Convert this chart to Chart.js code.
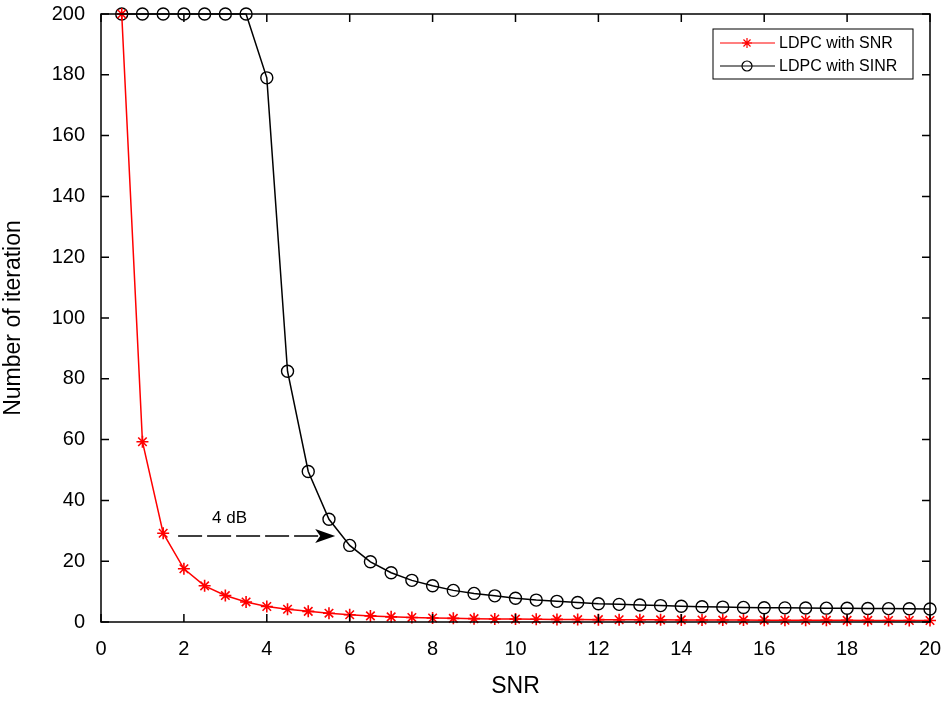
<!DOCTYPE html>
<html>
<head>
<meta charset="utf-8">
<script src="https://cdn.jsdelivr.net/npm/chart.js@4"></script>
<style>
  html, body { margin: 0; padding: 0; background: #fff; }
  #wrap { width: 944px; height: 704px; }
</style>
</head>
<body>
<div id="wrap"><canvas id="chart" width="944" height="704"></canvas></div>
<script>
// SNR-Werte (x-Achse)
const snr = [0.5, 1, 1.5, 2, 2.5, 3, 3.5, 4, 4.5, 5, 5.5, 6, 6.5, 7, 7.5, 8, 8.5, 9, 9.5, 10,
  10.5, 11, 11.5, 12, 12.5, 13, 13.5, 14, 14.5, 15, 15.5, 16, 16.5, 17, 17.5, 18, 18.5, 19, 19.5, 20];

// Iterationen LDPC mit SNR
const iterSNR = [200, 59.3, 29.2, 17.5, 11.9, 8.7, 6.6, 5.1, 4.2, 3.5, 2.9, 2.4, 2.0, 1.7, 1.5, 1.3,
  1.2, 1.1, 1.0, 0.95, 0.9, 0.85, 0.8, 0.78, 0.75, 0.72, 0.7, 0.68, 0.66, 0.64, 0.62, 0.6, 0.58, 0.56,
  0.55, 0.54, 0.52, 0.5, 0.5, 0.5];

// Iterationen LDPC mit SINR
const iterSINR = [200, 200, 200, 200, 200, 200, 200, 179, 82.5, 49.5, 33.8, 25.2, 19.8, 16.2, 13.7, 11.9,
  10.4, 9.4, 8.6, 7.8, 7.2, 6.8, 6.4, 6.0, 5.8, 5.6, 5.4, 5.2, 5.0, 4.9, 4.8, 4.7, 4.65, 4.6, 4.55,
  4.5, 4.45, 4.4, 4.35, 4.3];

const seriesLabels = ['LDPC with SNR', 'LDPC with SINR'];
const xTicks = [0, 2, 4, 6, 8, 10, 12, 14, 16, 18, 20];
const yTicks = [0, 20, 40, 60, 80, 100, 120, 140, 160, 180, 200];

// Pfeil-Anmerkung "4 dB"
const arrowText = '4 dB';
const arrowFrom = { x: 1.86, y: 28.3 };
const arrowTo = { x: 5.65, y: 28.3 };
const arrowLabelAt = { x: 3.1, y: 34 };

const FONT = '"Liberation Sans", Arial, sans-serif';

// Rahmen, nach innen zeigende Ticks, Pfeil und Legende
const framePlugin = {
  id: 'frame',
  afterDatasetsDraw(chart) {
    const { ctx, chartArea: a, scales: { x, y } } = chart;
    ctx.save();
    ctx.strokeStyle = '#000';
    ctx.lineWidth = 1.5;
    ctx.strokeRect(a.left, a.top, a.right - a.left, a.bottom - a.top);
    const tl = 8;
    ctx.beginPath();
    xTicks.forEach(v => {
      const px = x.getPixelForValue(v);
      ctx.moveTo(px, a.bottom); ctx.lineTo(px, a.bottom - tl);
      ctx.moveTo(px, a.top); ctx.lineTo(px, a.top + tl);
    });
    yTicks.forEach(v => {
      const py = y.getPixelForValue(v);
      ctx.moveTo(a.left, py); ctx.lineTo(a.left + tl, py);
      ctx.moveTo(a.right, py); ctx.lineTo(a.right - tl, py);
    });
    ctx.stroke();

    // Pfeil
    const x1 = x.getPixelForValue(arrowFrom.x), y1 = y.getPixelForValue(arrowFrom.y);
    const x2 = x.getPixelForValue(arrowTo.x), y2 = y.getPixelForValue(arrowTo.y);
    ctx.lineWidth = 1.5;
    ctx.setLineDash([24, 5]);
    ctx.beginPath();
    ctx.moveTo(x1, y1); ctx.lineTo(x2 - 14, y2);
    ctx.stroke();
    ctx.setLineDash([]);
    ctx.fillStyle = '#000';
    ctx.beginPath();
    ctx.moveTo(x2, y2);
    ctx.lineTo(x2 - 20, y2 - 7);
    ctx.lineTo(x2 - 15, y2);
    ctx.lineTo(x2 - 20, y2 + 7);
    ctx.closePath();
    ctx.fill();
    ctx.font = '17px ' + FONT;
    ctx.textAlign = 'center';
    ctx.textBaseline = 'middle';
    ctx.fillText(arrowText, x.getPixelForValue(arrowLabelAt.x), y.getPixelForValue(arrowLabelAt.y));

    // Legende
    const bx = a.right - 217, by = a.top + 15, bw = 200, bh = 50;
    ctx.fillStyle = '#fff';
    ctx.fillRect(bx, by, bw, bh);
    ctx.lineWidth = 1;
    ctx.strokeStyle = '#000';
    ctx.strokeRect(bx, by, bw, bh);
    ctx.font = '16px ' + FONT;
    ctx.textAlign = 'left';
    chart.data.datasets.forEach((ds, i) => {
      const ry = by + 14 + i * 23;
      ctx.strokeStyle = ds.borderColor;
      ctx.fillStyle = ds.backgroundColor;
      ctx.lineWidth = 1.2;
      ctx.beginPath();
      ctx.moveTo(bx + 7, ry); ctx.lineTo(bx + 62, ry);
      ctx.stroke();
      Chart.helpers.drawPoint(ctx, {
        pointStyle: ds.pointStyle, radius: 5, borderWidth: 1.2, rotation: 0
      }, bx + 34, ry);
      ctx.fillStyle = '#000';
      ctx.fillText(ds.label, bx + 66, ry + 1);
    });
    ctx.restore();
  }
};

new Chart(document.getElementById('chart'), {
  type: 'line',
  data: {
    datasets: [
      {
        label: seriesLabels[0],
        data: snr.map((v, i) => ({ x: v, y: iterSNR[i] })),
        borderColor: '#ff0000',
        backgroundColor: '#ff0000',
        pointStyle: 'star',
        pointRadius: 6,
        pointBorderWidth: 1.6,
        borderWidth: 1.5,
        tension: 0,
        clip: false
      },
      {
        label: seriesLabels[1],
        data: snr.map((v, i) => ({ x: v, y: iterSINR[i] })),
        borderColor: '#000000',
        backgroundColor: 'rgba(0,0,0,0)',
        pointStyle: 'circle',
        pointRadius: 6,
        pointBorderWidth: 1.4,
        borderWidth: 1.5,
        tension: 0,
        clip: false
      }
    ]
  },
  options: {
    responsive: false,
    animation: false,
    layout: { autoPadding: false, padding: { top: 14, right: 14, left: 0, bottom: 0 } },
    plugins: { legend: { display: false }, tooltip: { enabled: false } },
    scales: {
      x: {
        type: 'linear',
        min: 0, max: 20,
        grid: { display: false, drawTicks: false },
        border: { display: false },
        afterBuildTicks: s => { s.ticks = xTicks.map(v => ({ value: v })); },
        afterFit: s => { s.height = 82; s.paddingLeft = 0; s.paddingRight = 0; },
        ticks: { color: '#000', font: { family: FONT, size: 20 }, padding: 15, maxRotation: 0 },
        title: { display: true, text: 'SNR', color: '#000', font: { family: FONT, size: 23 }, padding: { top: 8 } }
      },
      y: {
        type: 'linear',
        min: 0, max: 200,
        grid: { display: false, drawTicks: false },
        border: { display: false },
        afterBuildTicks: s => { s.ticks = yTicks.map(v => ({ value: v })); },
        afterFit: s => { s.width = 101; s.paddingTop = 0; s.paddingBottom = 0; },
        ticks: { color: '#000', font: { family: FONT, size: 20 }, padding: 16 },
        title: { display: true, text: 'Number of iteration', color: '#000', font: { family: FONT, size: 23 }, padding: { bottom: 0, top: 0 } }
      }
    }
  },
  plugins: [framePlugin]
});
</script>
</body>
</html>
